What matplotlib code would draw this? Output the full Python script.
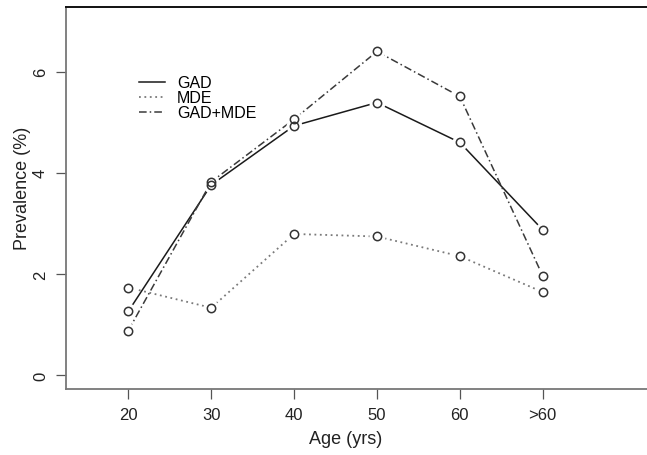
import matplotlib
matplotlib.use("Agg")
import matplotlib.pyplot as plt

plt.rcParams['font.family'] = ['Liberation Sans', 'DejaVu Sans']

age_labels = ["20", "30", "40", "50", "60", ">60"]
gad = [1.26, 3.76, 4.93, 5.39, 4.60, 2.87]
mde = [1.73, 1.33, 2.79, 2.74, 2.35, 1.64]
gad_mde = [0.88, 3.82, 5.06, 6.40, 5.51, 1.96]
series_names = ["GAD", "MDE", "GAD+MDE"]

W, H = 647, 456
fig = plt.figure(figsize=(W / 100, H / 100), dpi=100)
left, right, top, bottom = 66, 648, 8, 390
ax = fig.add_axes([left / W, (H - bottom) / H, (right - left) / W, (bottom - top) / H])

x = list(range(len(age_labels)))
styles = [
    dict(color="#1a1a1a", linestyle="-", linewidth=1.1),
    dict(color="#7a7a7a", linestyle=(0, (1, 2)), linewidth=1.3),
    dict(color="#3a3a3a", linestyle=(0, (5, 2, 1, 2)), linewidth=1.1),
]
handles = []
for vals, st, name in zip([gad, mde, gad_mde], styles, series_names):
    ln, = ax.plot(x, vals, zorder=2, label=name, **st)
    handles.append(ln)
for vals in [gad, mde, gad_mde]:
    ax.plot(x, vals, linestyle="none", marker="o", markersize=10.5,
            markerfacecolor="white", markeredgecolor="white", zorder=3)
for vals in [gad, mde, gad_mde]:
    ax.plot(x, vals, linestyle="none", marker="o", markersize=6,
            markerfacecolor="none", markeredgecolor="#333333",
            markeredgewidth=1.1, zorder=4)

ax.set_xlim(-0.752, 6.27)
ax.set_ylim(-0.277, 7.28)
ax.set_xticks(x)
ax.set_xticklabels(age_labels, fontsize=12)
ax.set_yticks([0, 2, 4, 6])
ax.set_yticklabels(["0", "2", "4", "6"], fontsize=12, rotation=90, va="center")
ax.tick_params(axis="both", direction="out", length=7, width=0.9, color="#555555",
               labelcolor="#222222")
ax.tick_params(axis="x", pad=6)
ax.tick_params(axis="y", pad=6)

ax.spines["right"].set_visible(False)
ax.spines["top"].set_color("#111111")
ax.spines["top"].set_linewidth(1.4)
for s in ["left", "bottom"]:
    ax.spines[s].set_color("#777777")
    ax.spines[s].set_linewidth(1.3)

fig.text(346 / W, 1 - 440 / H, "Age (yrs)", ha="center", va="center", fontsize=13, color="#222222")
fig.text(23 / W, 1 - 188 / H, "Prevalence (%)", ha="center", va="center", rotation=90,
         fontsize=13, color="#222222")

ax.legend(handles=handles, loc="upper left",
          bbox_to_anchor=((133 - left) / (right - left), (bottom - 70) / (bottom - top)),
          frameon=False, fontsize=11.5, handlelength=1.6, handletextpad=0.75,
          labelspacing=0.0, borderaxespad=0)

fig.savefig("out.png", dpi=100)
